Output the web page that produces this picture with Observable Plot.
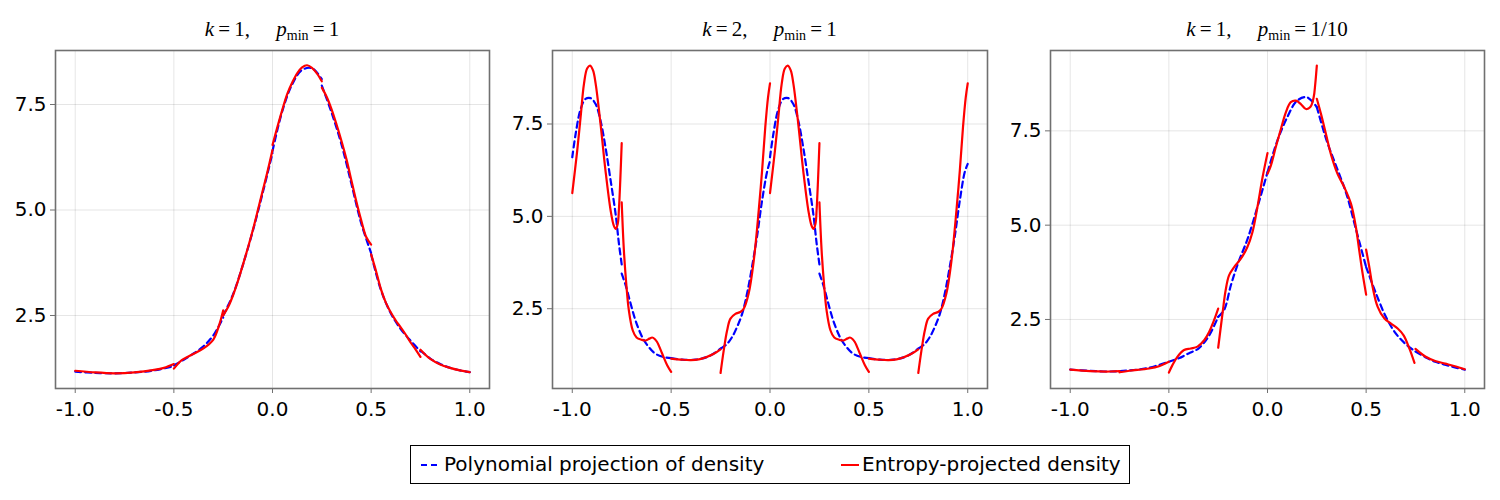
<!DOCTYPE html>
<html>
<head>
<meta charset="utf-8">
<script src="https://cdn.jsdelivr.net/npm/d3@7"></script>
<script src="https://cdn.jsdelivr.net/npm/@observablehq/plot@0.6"></script>
<style>
  body { margin: 0; background: #fff; }
  #root { position: relative; width: 1500px; height: 500px; overflow: hidden;
          font-family: "DejaVu Sans", sans-serif; }
  .panel { position: absolute; top: 0; }
  .title { position: absolute; top: 17px; transform: translateX(-50%); white-space: nowrap;
           font-family: "Liberation Serif", "DejaVu Serif", serif; font-size: 21px; line-height: 24px; color: #000; }
  .title sub { font-size: 14px; vertical-align: -4px; line-height: 0; }
  .legend { position: absolute; left: 410px; top: 445px; width: 720px; height: 39px; box-sizing: border-box;
            border: 1px solid #000; background: #fff; }
  .legend .lab { position: absolute; top: 0; line-height: 37px; font-size: 20px; color: #000; white-space: nowrap; }
  .legend svg { position: absolute; top: 0; }
</style>
</head>
<body>
<div id="root"></div>
<script>
// ---------- data ----------
const xTicks = [-1, -0.5, 0, 0.5, 1];
const yTicks = [2.5, 5.0, 7.5];
const seriesNames = ["Polynomial projection of density", "Entropy-projected density"];
const titles = [
  {k: "1", p: "1"},
  {k: "2", p: "1"},
  {k: "1", p: "1/10"}
];

// Panel 1: k = 1, p_min = 1  (each inner list is one element piece)
const p1Red = [
  [[-1,1.19],[-0.9,1.15],[-0.8,1.13],[-0.7,1.15],[-0.6,1.21],[-0.55,1.26],[-0.5,1.35]],
  [[-0.5,1.24],[-0.46,1.44],[-0.41,1.57],[-0.35,1.72],[-0.3,1.93],[-0.27,2.28],[-0.25,2.62]],
  [[-0.25,2.5],[-0.225,2.7],[-0.2,2.98],[-0.175,3.32],[-0.15,3.7],[-0.125,4.1],[-0.1,4.52],[-0.075,4.98],[-0.05,5.45],[-0.025,5.92],[0,6.42]],
  [[0,6.54],[0.025,6.97],[0.05,7.38],[0.075,7.75],[0.1,8.02],[0.125,8.24],[0.15,8.38],[0.175,8.43],[0.2,8.37],[0.225,8.24],[0.25,8.05]],
  [[0.25,7.9],[0.275,7.68],[0.3,7.38],[0.325,7.02],[0.35,6.63],[0.375,6.2],[0.4,5.7],[0.425,5.2],[0.45,4.75],[0.475,4.36],[0.5,4.18]],
  [[0.5,3.95],[0.525,3.55],[0.55,3.12],[0.575,2.8],[0.6,2.57],[0.625,2.38],[0.65,2.22],[0.675,2.05],[0.7,1.86],[0.725,1.7],[0.75,1.52]],
  [[0.75,1.69],[0.8,1.47],[0.85,1.34],[0.9,1.26],[0.95,1.2],[1,1.16]]
];
const p1Blue = [
  [[-1,1.17],[-0.9,1.14],[-0.8,1.13],[-0.7,1.15],[-0.6,1.2],[-0.5,1.3]],
  [[-0.5,1.32],[-0.45,1.45],[-0.4,1.6],[-0.35,1.77],[-0.3,2.03],[-0.25,2.45]],
  [[-0.25,2.5],[-0.2,3.0],[-0.15,3.7],[-0.1,4.5],[-0.05,5.4],[0,6.35]],
  [[0,6.4],[0.05,7.35],[0.1,7.98],[0.15,8.32],[0.2,8.36],[0.25,8.1]],
  [[0.25,7.95],[0.3,7.3],[0.35,6.55],[0.4,5.62],[0.45,4.68],[0.5,3.98]],
  [[0.5,3.95],[0.55,3.1],[0.6,2.55],[0.65,2.18],[0.7,1.9],[0.75,1.65]],
  [[0.75,1.67],[0.8,1.48],[0.85,1.35],[0.9,1.26],[0.95,1.2],[1,1.16]]
];

// Panel 2: k = 2, p_min = 1
const p2Red = [
  [[-1,5.63],[-0.975,6.78],[-0.958,7.68],[-0.941,8.58],[-0.925,9.0],[-0.91,9.08],[-0.895,8.95],[-0.882,8.6],[-0.857,7.5],[-0.832,6.24],[-0.806,5.16],[-0.79,4.75],[-0.78,4.66],[-0.77,4.8],[-0.764,5.2],[-0.757,6.0],[-0.75,6.98]],
  [[-0.75,5.38],[-0.739,4.08],[-0.727,3.18],[-0.714,2.46],[-0.694,1.91],[-0.675,1.72],[-0.65,1.66],[-0.63,1.64],[-0.61,1.69],[-0.596,1.72],[-0.583,1.68],[-0.571,1.6],[-0.545,1.28],[-0.52,0.97],[-0.5,0.79]],
  [[-0.5,1.15],[-0.444,1.12],[-0.4,1.11],[-0.36,1.13],[-0.327,1.18],[-0.284,1.28],[-0.25,1.4]],
  [[-0.25,0.76],[-0.234,1.37],[-0.217,1.91],[-0.2,2.23],[-0.175,2.36],[-0.15,2.41],[-0.133,2.5],[-0.108,2.91],[-0.082,3.81],[-0.057,5.16],[-0.04,6.24],[-0.024,7.41],[-0.01,8.22],[0,8.6]],
  [[0,5.63],[0.025,6.78],[0.042,7.68],[0.059,8.58],[0.075,9.0],[0.09,9.08],[0.105,8.95],[0.118,8.6],[0.143,7.5],[0.168,6.24],[0.194,5.16],[0.21,4.75],[0.22,4.66],[0.23,4.8],[0.236,5.2],[0.243,6.0],[0.25,6.98]],
  [[0.25,5.38],[0.261,4.08],[0.273,3.18],[0.286,2.46],[0.306,1.91],[0.325,1.72],[0.35,1.66],[0.37,1.64],[0.39,1.69],[0.404,1.72],[0.417,1.68],[0.429,1.6],[0.455,1.28],[0.48,0.97],[0.5,0.79]],
  [[0.5,1.15],[0.556,1.12],[0.6,1.11],[0.64,1.13],[0.673,1.18],[0.716,1.28],[0.75,1.4]],
  [[0.75,0.76],[0.766,1.37],[0.783,1.91],[0.8,2.23],[0.825,2.36],[0.85,2.41],[0.867,2.5],[0.892,2.91],[0.918,3.81],[0.943,5.16],[0.96,6.24],[0.976,7.41],[0.99,8.22],[1,8.6]]
];
const p2Blue = [
  [[-1,6.6],[-0.983,7.23],[-0.958,7.9],[-0.933,8.18],[-0.907,8.2],[-0.882,8.04],[-0.857,7.59],[-0.832,6.87],[-0.806,5.97],[-0.781,5.07],[-0.764,4.26],[-0.75,3.7]],
  [[-0.75,3.45],[-0.731,3.15],[-0.705,2.64],[-0.68,2.18],[-0.646,1.73],[-0.613,1.46],[-0.579,1.28],[-0.537,1.19],[-0.5,1.16]],
  [[-0.5,1.16],[-0.444,1.12],[-0.377,1.12],[-0.31,1.21],[-0.25,1.42]],
  [[-0.25,1.42],[-0.217,1.55],[-0.192,1.73],[-0.167,2.0],[-0.141,2.36],[-0.116,2.91],[-0.091,3.63],[-0.066,4.44],[-0.04,5.43],[-0.015,6.2],[0,6.5]],
  [[0,6.6],[0.017,7.23],[0.042,7.9],[0.067,8.18],[0.093,8.2],[0.118,8.04],[0.143,7.59],[0.168,6.87],[0.194,5.97],[0.219,5.07],[0.236,4.26],[0.25,3.7]],
  [[0.25,3.45],[0.269,3.15],[0.295,2.64],[0.32,2.18],[0.354,1.73],[0.387,1.46],[0.421,1.28],[0.463,1.19],[0.5,1.16]],
  [[0.5,1.16],[0.556,1.12],[0.623,1.12],[0.69,1.21],[0.75,1.42]],
  [[0.75,1.42],[0.783,1.55],[0.808,1.73],[0.833,2.0],[0.859,2.36],[0.884,2.91],[0.909,3.63],[0.934,4.44],[0.96,5.43],[0.985,6.2],[1,6.42]]
];

// Panel 3: k = 1, p_min = 1/10
const p3Red = [
  [[-1,1.17],[-0.9,1.13],[-0.8,1.12],[-0.75,1.13]],
  [[-0.75,1.1],[-0.7,1.14],[-0.6,1.2],[-0.55,1.26],[-0.5,1.38]],
  [[-0.5,1.09],[-0.482,1.29],[-0.457,1.51],[-0.423,1.69],[-0.389,1.73],[-0.355,1.78],[-0.321,1.95],[-0.296,2.17],[-0.271,2.48],[-0.25,2.79]],
  [[-0.25,1.75],[-0.228,2.66],[-0.212,3.28],[-0.195,3.67],[-0.169,3.89],[-0.135,4.11],[-0.102,4.42],[-0.076,4.82],[-0.051,5.48],[-0.025,6.27],[0,6.91]],
  [[0,6.36],[0.017,6.58],[0.042,7.07],[0.068,7.55],[0.093,7.99],[0.118,8.26],[0.144,8.3],[0.169,8.21],[0.195,8.08],[0.217,8.13],[0.234,8.39],[0.242,8.74],[0.25,9.23]],
  [[0.25,8.35],[0.271,7.95],[0.296,7.42],[0.321,6.89],[0.355,6.36],[0.389,6.01],[0.423,5.57],[0.448,4.95],[0.465,4.33],[0.482,3.72],[0.5,3.16]],
  [[0.5,4.35],[0.516,3.89],[0.533,3.36],[0.558,2.84],[0.592,2.53],[0.626,2.39],[0.66,2.26],[0.69,2.08],[0.72,1.72],[0.745,1.35]],
  [[0.75,1.72],[0.8,1.52],[0.85,1.4],[0.9,1.33],[0.95,1.26],[1,1.18]]
];
const p3Blue = [
  [[-1,1.17],[-0.9,1.14],[-0.8,1.12],[-0.7,1.15],[-0.6,1.22],[-0.5,1.38]],
  [[-0.5,1.38],[-0.45,1.47],[-0.4,1.6],[-0.35,1.73],[-0.3,2.04],[-0.25,2.57]],
  [[-0.25,2.57],[-0.22,2.75],[-0.186,3.4],[-0.15,3.98],[-0.1,4.65],[-0.05,5.5],[0,6.4]],
  [[0,6.4],[0.05,7.24],[0.1,7.86],[0.15,8.3],[0.2,8.39],[0.25,8.13]],
  [[0.25,8.13],[0.3,7.24],[0.35,6.54],[0.4,5.83],[0.45,4.86],[0.5,3.89]],
  [[0.5,3.89],[0.55,3.19],[0.6,2.57],[0.65,2.13],[0.7,1.85],[0.75,1.65]],
  [[0.75,1.65],[0.8,1.5],[0.85,1.38],[0.9,1.3],[0.95,1.23],[1,1.17]]
];

const yDomains = [[0.77, 8.78], [0.34, 9.49], [0.67, 9.63]];

// ---------- drawing ----------
const BLUE = "#0000ff", RED = "#ff0000", FRAME = "#707070";
const fmt = d => d.toFixed(1);
function rows(segs) {
  return segs.flatMap((seg, i) => seg.map(([x, y]) => ({x, y, seg: i})));
}
const layout = [
  {left: 0,    ml: 55, mr: 11},
  {left: 500,  ml: 52, mr: 13},
  {left: 1000, ml: 50, mr: 16}
];
const reds = [p1Red, p2Red, p3Red];
const blues = [p1Blue, p2Blue, p3Blue];
const root = document.getElementById("root");

layout.forEach((L, i) => {
  const plot = Plot.plot({
    width: 500, height: 420,
    marginTop: 50, marginBottom: 32, marginLeft: L.ml, marginRight: L.mr,
    x: {domain: [-1.1, 1.1]},
    y: {domain: yDomains[i]},
    style: {fontSize: "20px", fontFamily: '"DejaVu Sans",sans-serif', color: "#000", background: "transparent", overflow: "visible"},
    marks: [
      Plot.gridX(xTicks, {stroke: "#000", strokeOpacity: 0.1, strokeWidth: 1}),
      Plot.gridY(yTicks, {stroke: "#000", strokeOpacity: 0.1, strokeWidth: 1}),
      Plot.line(rows(blues[i]), {x: "x", y: "y", z: "seg", stroke: BLUE, strokeWidth: 2.2, strokeDasharray: "6,4", curve: "catmull-rom"}),
      Plot.line(rows(reds[i]), {x: "x", y: "y", z: "seg", stroke: RED, strokeWidth: 2.2, curve: "catmull-rom"}),
      Plot.frame({stroke: FRAME, strokeWidth: 1.6}),
      Plot.axisX(xTicks, {tickFormat: fmt, tickSize: 5, tickPadding: 8, stroke: FRAME, label: null, fill: "#000"}),
      Plot.axisY(yTicks, {tickFormat: fmt, tickSize: 5, tickPadding: 4, stroke: FRAME, label: null, fill: "#000"})
    ]
  });
  plot.classList.add("panel");
  plot.style.left = L.left + "px";
  root.appendChild(plot);

  const cx = L.left + L.ml + (500 - L.ml - L.mr) / 2;
  const t = document.createElement("div");
  t.className = "title";
  t.style.left = cx + "px";
  t.innerHTML = `<i>k</i>&#8201;=&#8201;${titles[i].k},&emsp;&nbsp;<i>p</i><sub>min</sub>&#8201;=&#8201;${titles[i].p}`;
  root.appendChild(t);
});

// legend
const leg = document.createElement("div");
leg.className = "legend";
leg.innerHTML = `
  <svg style="left:9px" width="20" height="37"><line x1="1" x2="19" y1="19" y2="19" stroke="${BLUE}" stroke-width="2" stroke-dasharray="6,4"/></svg>
  <span class="lab" style="left:33px">${seriesNames[0]}</span>
  <svg style="left:429px" width="20" height="37"><line x1="1" x2="19" y1="19" y2="19" stroke="${RED}" stroke-width="2"/></svg>
  <span class="lab" style="left:451px">${seriesNames[1]}</span>`;
root.appendChild(leg);
</script>
</body>
</html>
